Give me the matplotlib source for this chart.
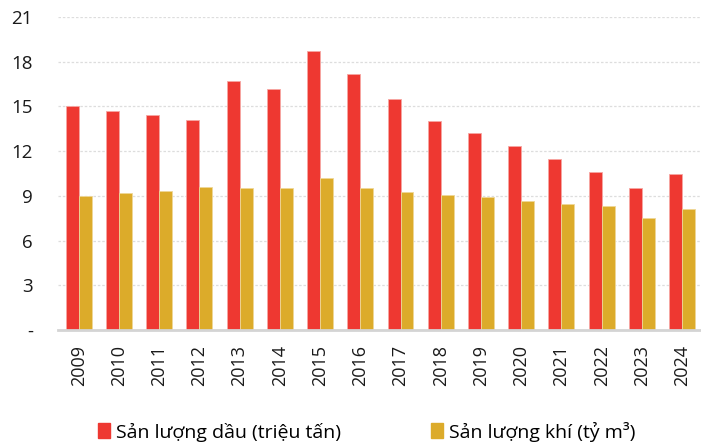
import matplotlib.pyplot as plt
import numpy as np
from matplotlib.patches import Patch

plt.rcParams['font.family'] = ['Open Sans', 'DejaVu Sans']

years = ['2009', '2010', '2011', '2012', '2013', '2014', '2015', '2016',
         '2017', '2018', '2019', '2020', '2021', '2022', '2023', '2024']
oil = [15.0, 14.7, 14.45, 14.1, 16.7, 16.15, 18.7, 17.2,
       15.5, 14.0, 13.2, 12.35, 11.45, 10.6, 9.5, 10.45]
gas = [9.0, 9.2, 9.35, 9.6, 9.5, 9.5, 10.2, 9.55,
       9.25, 9.05, 8.9, 8.65, 8.45, 8.3, 7.5, 8.15]
yticks = [0, 3, 6, 9, 12, 15, 18, 21]
ytick_labels = ['-', '3', '6', '9', '12', '15', '18', '21']

red = '#ee3831'
gold = '#dcab2a'

fig = plt.figure(figsize=(7.01, 4.45), dpi=100)
ax = fig.add_axes([0.0827, 0.2584, 0.9173, 0.7034])

x = np.arange(len(years))
w = 0.323
ax.bar(x - w/2, oil, w, color=red, edgecolor='#f6a6a2', linewidth=0.6, zorder=3)
ax.bar(x + w/2, gas, w, color=gold, edgecolor='#efd797', linewidth=0.6, zorder=3)

ax.set_xlim(-0.515, 15.47)
ax.set_ylim(0, 21)
ax.set_yticks(yticks)
ax.set_yticklabels(ytick_labels, fontsize=13.5, color='#1a1a1a')
ax.set_xticks(x)
ax.set_xticklabels(years, rotation=90, fontsize=13, color='#1a1a1a')
ax.tick_params(axis='y', length=0, pad=18)
ax.tick_params(axis='x', length=0, pad=11)

ax.grid(axis='y', color='#dddddd', linestyle=(0, (2, 1.5)), linewidth=0.9, zorder=0)
ax.set_axisbelow(True)
for s in ['top', 'right', 'left']:
    ax.spines[s].set_visible(False)
ax.spines['bottom'].set_color('#d4d4d4')
ax.spines['bottom'].set_linewidth(2)
ax.spines['bottom'].set_zorder(4)

handles = [Patch(color=red), Patch(color=gold)]
fig.legend(handles, ['Sản lượng dầu (triệu tấn)', 'Sản lượng khí (tỷ m³)'],
           loc='center', bbox_to_anchor=(0.523, 0.03), ncol=2, frameon=False,
           fontsize=14, handlelength=0.65, handleheight=0.8, handletextpad=0.3,
           columnspacing=4.6)

fig.savefig('out.png', dpi=100)
